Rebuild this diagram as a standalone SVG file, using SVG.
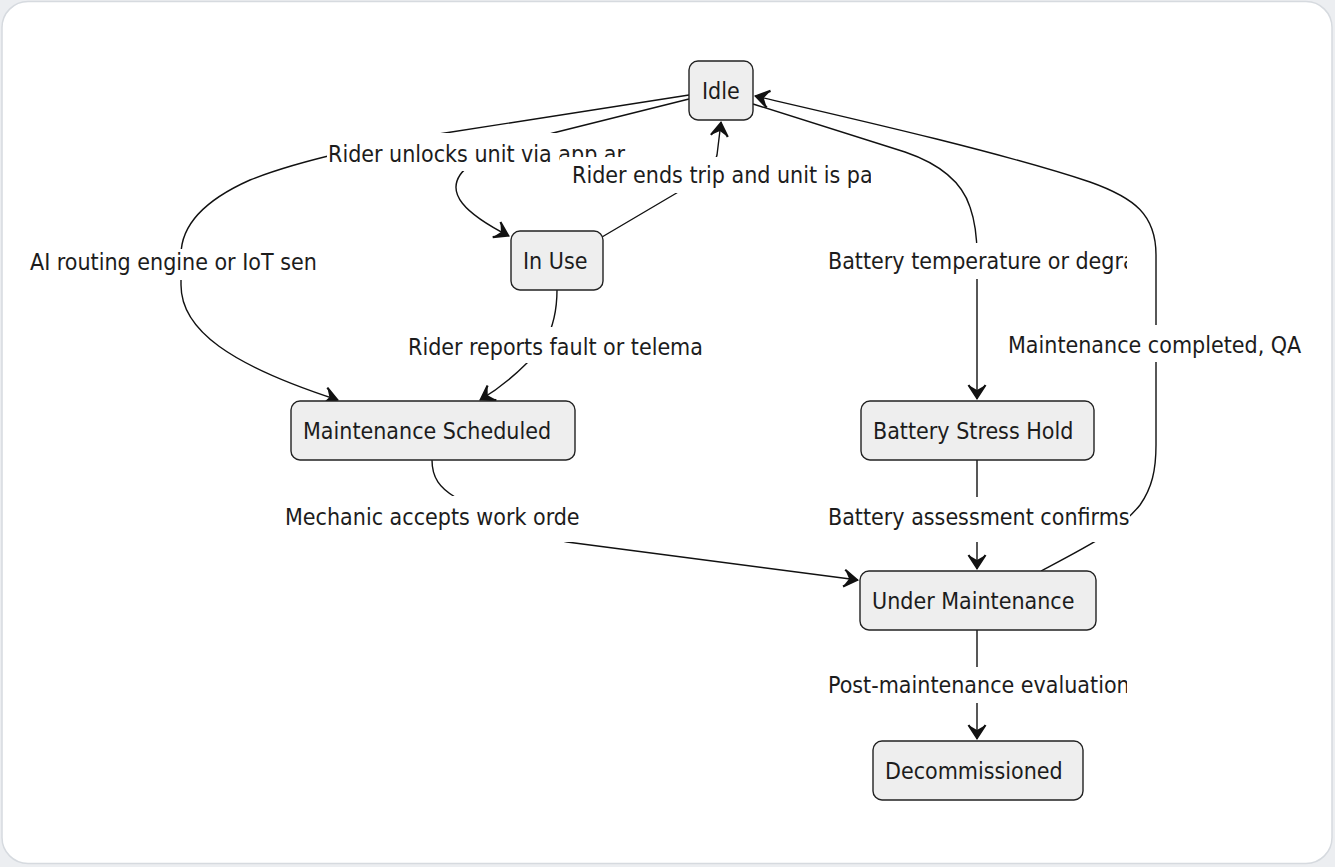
<svg xmlns="http://www.w3.org/2000/svg" width="1335" height="867" viewBox="0 0 1335 867">
<style>
  text { font-family: "DejaVu Sans Condensed", "DejaVu Sans", sans-serif; font-stretch: condensed; font-size: 23px; fill: #1c1c1c; }
  .node rect { fill: #eeeeee; stroke: #222222; stroke-width: 1.4; }
  .edge { fill: none; stroke: #111111; stroke-width: 1.4; marker-end: url(#arrow); }
  .lbg { fill: #ffffff; }
</style>
<defs>
  <marker id="arrow" markerUnits="userSpaceOnUse" viewBox="-18 -11 20 22" refX="0" refY="0" markerWidth="20" markerHeight="22" orient="auto">
    <path d="M-1,0 L-14,-8.5 L-9,0 L-14,8.5 Z" fill="#111111"/>
    <path d="M-14,-8.5 L-1,0 L-14,8.5" fill="none" stroke="#111111" stroke-width="2.2" stroke-linejoin="miter"/>
  </marker>
  <clipPath id="c1"><rect x="320" y="120" width="306" height="60"/></clipPath>
  <clipPath id="c2"><rect x="565" y="150" width="306" height="50"/></clipPath>
  <clipPath id="c3"><rect x="20" y="240" width="310" height="45"/></clipPath>
  <clipPath id="c4"><rect x="820" y="240" width="307" height="45"/></clipPath>
  <clipPath id="c5"><rect x="400" y="320" width="306" height="45"/></clipPath>
  <clipPath id="c6"><rect x="1000" y="320" width="308" height="45"/></clipPath>
  <clipPath id="c7"><rect x="280" y="495" width="302" height="45"/></clipPath>
  <clipPath id="c8"><rect x="820" y="495" width="309" height="45"/></clipPath>
  <clipPath id="c9"><rect x="820" y="665" width="307" height="45"/></clipPath>
</defs>

<rect x="0" y="0" width="1335" height="867" fill="#eceef1"/>
<rect x="2" y="1.5" width="1330" height="862" rx="26" fill="#ffffff" stroke="#d6dadf" stroke-width="1.5"/>

<g id="connectors">
  <!-- Idle -> Maintenance Scheduled -->
  <path class="edge" d="M689,95 L445,133 C380,143 300,160 250,180 C205,200 181,225 181,255 L181,285 C181,330 230,365 338,400"/>
  <!-- Idle -> In Use -->
  <path class="edge" d="M689,99 L553,133 C500,148 470,160 460,175 C448,193 462,212 509,236"/>
  <!-- In Use -> Idle -->
  <path class="edge" d="M602,237 L680,191 C705,176 715,165 717,155 L721,122"/>
  <!-- Idle -> Battery Stress Hold -->
  <path class="edge" d="M753,104 L905,152 C940,164 962,182 970,207 Q977,227 977,255 L977,399"/>
  <!-- Under Maintenance -> Idle -->
  <path class="edge" d="M1041,571 C1090,545 1120,530 1140,505 C1152,488 1156,470 1156,445 L1156,255 C1156,215 1135,198 1090,182 C1000,152 850,118 755,96"/>
  <!-- In Use -> Maintenance Scheduled -->
  <path class="edge" d="M557,290 Q557,320 545,342 L527,363 Q505,385 480,400"/>
  <!-- Maintenance Scheduled -> Under Maintenance -->
  <path class="edge" d="M432,460 C432,478 440,488 455,497 C490,520 530,535 567,542 L858,580"/>
  <!-- Battery Stress Hold -> Under Maintenance -->
  <path class="edge" d="M977,460 L977,569"/>
  <!-- Under Maintenance -> Decommissioned -->
  <path class="edge" d="M977,630 L977,739"/>
</g>

<g id="edge-labels">
  <g id="label-unlock">
    <rect class="lbg" x="327" y="133" width="300" height="38"/>
    <text x="328" y="162" clip-path="url(#c1)">Rider unlocks unit via app ar</text>
  </g>
  <g id="label-ends">
    <rect class="lbg" x="560" y="157" width="312" height="36"/>
    <text x="572" y="183" clip-path="url(#c2)">Rider ends trip and unit is pa</text>
  </g>
  <g id="label-ai">
    <rect class="lbg" x="28" y="249" width="302" height="31"/>
    <text x="30" y="270" clip-path="url(#c3)">AI routing engine or IoT sen</text>
  </g>
  <g id="label-battemp">
    <rect class="lbg" x="826" y="243" width="302" height="36"/>
    <text x="828" y="269" clip-path="url(#c4)">Battery temperature or degra</text>
  </g>
  <g id="label-reports">
    <rect class="lbg" x="406" y="327" width="301" height="36"/>
    <text x="408" y="355" clip-path="url(#c5)">Rider reports fault or telema</text>
  </g>
  <g id="label-completed">
    <rect class="lbg" x="1006" y="325" width="303" height="37"/>
    <text x="1008" y="353" clip-path="url(#c6)">Maintenance completed, QA</text>
  </g>
  <g id="label-mechanic">
    <rect class="lbg" x="283" y="496" width="300" height="46"/>
    <text x="285" y="525" clip-path="url(#c7)">Mechanic accepts work orde</text>
  </g>
  <g id="label-assess">
    <rect class="lbg" x="826" y="497" width="304" height="45"/>
    <text x="828" y="525" clip-path="url(#c8)">Battery assessment confirms</text>
  </g>
  <g id="label-post">
    <rect class="lbg" x="826" y="667" width="302" height="36"/>
    <text x="828" y="693" clip-path="url(#c9)">Post-maintenance evaluation</text>
  </g>
</g>

<g id="node-idle" class="node">
  <rect x="689" y="61" width="64" height="59" rx="9"/>
  <text x="702" y="99">Idle</text>
</g>
<g id="node-inuse" class="node">
  <rect x="511" y="231" width="92" height="59" rx="9"/>
  <text x="523" y="269">In Use</text>
</g>
<g id="node-maint-scheduled" class="node">
  <rect x="291" y="401" width="284" height="59" rx="9"/>
  <text x="303" y="439">Maintenance Scheduled</text>
</g>
<g id="node-battery-hold" class="node">
  <rect x="861" y="401" width="233" height="59" rx="9"/>
  <text x="873" y="439">Battery Stress Hold</text>
</g>
<g id="node-under-maint" class="node">
  <rect x="860" y="571" width="236" height="59" rx="9"/>
  <text x="872" y="609">Under Maintenance</text>
</g>
<g id="node-decommissioned" class="node">
  <rect x="873" y="741" width="210" height="59" rx="9"/>
  <text x="885" y="779">Decommissioned</text>
</g>
</svg>
